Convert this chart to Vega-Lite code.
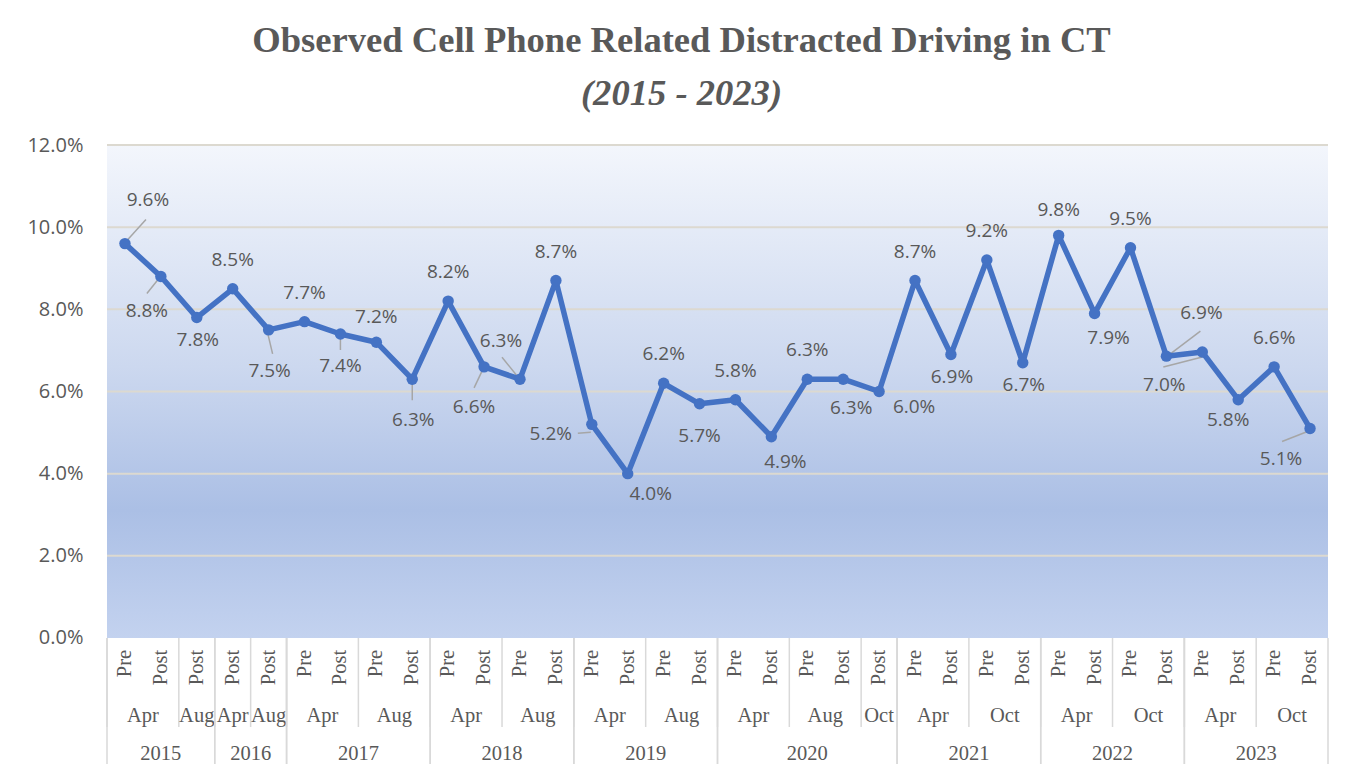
{
  "$schema": "https://vega.github.io/schema/vega-lite/v6.json",
  "width": 1221,
  "height": 619,
  "autosize": {"type": "none"},
  "padding": {"left": 107, "top": 145, "right": 29, "bottom": 8},
  "background": "white",
  "title": {
    "text": "Observed Cell Phone Related Distracted Driving in CT",
    "subtitle": "(2015 - 2023)",
    "font": "Liberation Serif",
    "fontSize": 36.6,
    "fontWeight": "bold",
    "color": "#595959",
    "subtitleFont": "Liberation Serif",
    "subtitleFontSize": 36.6,
    "subtitleFontStyle": "italic",
    "subtitleFontWeight": "bold",
    "subtitleColor": "#595959",
    "subtitlePadding": 17,
    "anchor": "middle",
    "frame": "group",
    "dx": -36,
    "offset": 22
  },
  "config": {
    "view": {"stroke": null}
  },
  "datasets": {
    "obs": [
      {"key": "2015 Apr Pre", "year": "2015", "month": "Apr", "phase": "Pre", "rate": 0.096},
      {"key": "2015 Apr Post", "year": "2015", "month": "Apr", "phase": "Post", "rate": 0.088},
      {"key": "2015 Aug Post", "year": "2015", "month": "Aug", "phase": "Post", "rate": 0.078},
      {"key": "2016 Apr Post", "year": "2016", "month": "Apr", "phase": "Post", "rate": 0.085},
      {"key": "2016 Aug Post", "year": "2016", "month": "Aug", "phase": "Post", "rate": 0.075},
      {"key": "2017 Apr Pre", "year": "2017", "month": "Apr", "phase": "Pre", "rate": 0.077},
      {"key": "2017 Apr Post", "year": "2017", "month": "Apr", "phase": "Post", "rate": 0.074},
      {"key": "2017 Aug Pre", "year": "2017", "month": "Aug", "phase": "Pre", "rate": 0.072},
      {"key": "2017 Aug Post", "year": "2017", "month": "Aug", "phase": "Post", "rate": 0.063},
      {"key": "2018 Apr Pre", "year": "2018", "month": "Apr", "phase": "Pre", "rate": 0.082},
      {"key": "2018 Apr Post", "year": "2018", "month": "Apr", "phase": "Post", "rate": 0.066},
      {"key": "2018 Aug Pre", "year": "2018", "month": "Aug", "phase": "Pre", "rate": 0.063},
      {"key": "2018 Aug Post", "year": "2018", "month": "Aug", "phase": "Post", "rate": 0.087},
      {"key": "2019 Apr Pre", "year": "2019", "month": "Apr", "phase": "Pre", "rate": 0.052},
      {"key": "2019 Apr Post", "year": "2019", "month": "Apr", "phase": "Post", "rate": 0.040},
      {"key": "2019 Aug Pre", "year": "2019", "month": "Aug", "phase": "Pre", "rate": 0.062},
      {"key": "2019 Aug Post", "year": "2019", "month": "Aug", "phase": "Post", "rate": 0.057},
      {"key": "2020 Apr Pre", "year": "2020", "month": "Apr", "phase": "Pre", "rate": 0.058},
      {"key": "2020 Apr Post", "year": "2020", "month": "Apr", "phase": "Post", "rate": 0.049},
      {"key": "2020 Aug Pre", "year": "2020", "month": "Aug", "phase": "Pre", "rate": 0.063},
      {"key": "2020 Aug Post", "year": "2020", "month": "Aug", "phase": "Post", "rate": 0.063},
      {"key": "2020 Oct Post", "year": "2020", "month": "Oct", "phase": "Post", "rate": 0.060},
      {"key": "2021 Apr Pre", "year": "2021", "month": "Apr", "phase": "Pre", "rate": 0.087},
      {"key": "2021 Apr Post", "year": "2021", "month": "Apr", "phase": "Post", "rate": 0.069},
      {"key": "2021 Oct Pre", "year": "2021", "month": "Oct", "phase": "Pre", "rate": 0.092},
      {"key": "2021 Oct Post", "year": "2021", "month": "Oct", "phase": "Post", "rate": 0.067},
      {"key": "2022 Apr Pre", "year": "2022", "month": "Apr", "phase": "Pre", "rate": 0.098},
      {"key": "2022 Apr Post", "year": "2022", "month": "Apr", "phase": "Post", "rate": 0.079},
      {"key": "2022 Oct Pre", "year": "2022", "month": "Oct", "phase": "Pre", "rate": 0.095},
      {"key": "2022 Oct Post", "year": "2022", "month": "Oct", "phase": "Post", "rate": 0.0686},
      {"key": "2023 Apr Pre", "year": "2023", "month": "Apr", "phase": "Pre", "rate": 0.0696},
      {"key": "2023 Apr Post", "year": "2023", "month": "Apr", "phase": "Post", "rate": 0.058},
      {"key": "2023 Oct Pre", "year": "2023", "month": "Oct", "phase": "Pre", "rate": 0.066},
      {"key": "2023 Oct Post", "year": "2023", "month": "Oct", "phase": "Post", "rate": 0.051}
    ],
    "months": [
      {"year": "2015", "month": "Apr", "first": "2015 Apr Pre", "n": 2},
      {"year": "2015", "month": "Aug", "first": "2015 Aug Post", "n": 1},
      {"year": "2016", "month": "Apr", "first": "2016 Apr Post", "n": 1},
      {"year": "2016", "month": "Aug", "first": "2016 Aug Post", "n": 1},
      {"year": "2017", "month": "Apr", "first": "2017 Apr Pre", "n": 2},
      {"year": "2017", "month": "Aug", "first": "2017 Aug Pre", "n": 2},
      {"year": "2018", "month": "Apr", "first": "2018 Apr Pre", "n": 2},
      {"year": "2018", "month": "Aug", "first": "2018 Aug Pre", "n": 2},
      {"year": "2019", "month": "Apr", "first": "2019 Apr Pre", "n": 2},
      {"year": "2019", "month": "Aug", "first": "2019 Aug Pre", "n": 2},
      {"year": "2020", "month": "Apr", "first": "2020 Apr Pre", "n": 2},
      {"year": "2020", "month": "Aug", "first": "2020 Aug Pre", "n": 2},
      {"year": "2020", "month": "Oct", "first": "2020 Oct Post", "n": 1},
      {"year": "2021", "month": "Apr", "first": "2021 Apr Pre", "n": 2},
      {"year": "2021", "month": "Oct", "first": "2021 Oct Pre", "n": 2},
      {"year": "2022", "month": "Apr", "first": "2022 Apr Pre", "n": 2},
      {"year": "2022", "month": "Oct", "first": "2022 Oct Pre", "n": 2},
      {"year": "2023", "month": "Apr", "first": "2023 Apr Pre", "n": 2},
      {"year": "2023", "month": "Oct", "first": "2023 Oct Pre", "n": 2}
    ],
    "years": [
      {"year": "2015", "first": "2015 Apr Pre", "mid": "2015 Apr Post", "last": "2015 Aug Post", "n": 3},
      {"year": "2016", "first": "2016 Apr Post", "mid": "2016 Apr Post", "last": "2016 Aug Post", "n": 2},
      {"year": "2017", "first": "2017 Apr Pre", "mid": "2017 Apr Post", "last": "2017 Aug Post", "n": 4},
      {"year": "2018", "first": "2018 Apr Pre", "mid": "2018 Apr Post", "last": "2018 Aug Post", "n": 4},
      {"year": "2019", "first": "2019 Apr Pre", "mid": "2019 Apr Post", "last": "2019 Aug Post", "n": 4},
      {"year": "2020", "first": "2020 Apr Pre", "mid": "2020 Aug Pre", "last": "2020 Oct Post", "n": 5},
      {"year": "2021", "first": "2021 Apr Pre", "mid": "2021 Apr Post", "last": "2021 Oct Post", "n": 4},
      {"year": "2022", "first": "2022 Apr Pre", "mid": "2022 Apr Post", "last": "2022 Oct Post", "n": 4},
      {"year": "2023", "first": "2023 Apr Pre", "mid": "2023 Apr Post", "last": "2023 Oct Post", "n": 4}
    ],
    "grid": [{"v": 0.02}, {"v": 0.04}, {"v": 0.06}, {"v": 0.08}, {"v": 0.10}, {"v": 0.12}]
  },
  "layer": [
    {
      "data": {"values": [{"area": "plot"}]},
      "mark": {
        "type": "rect",
        "color": {
          "gradient": "linear",
          "x1": 0, "y1": 0, "x2": 0, "y2": 1,
          "stops": [
            {"offset": 0, "color": "#f3f6fc"},
            {"offset": 0.45, "color": "#ccd8ef"},
            {"offset": 0.74, "color": "#abbfe5"},
            {"offset": 1, "color": "#c3d2ef"}
          ]
        }
      },
      "encoding": {
        "y": {
          "datum": 0.12, "type": "quantitative", "title": null,
          "scale": {"domain": [-0.03067, 0.12], "nice": false, "zero": false},
          "axis": {
            "values": [0, 0.02, 0.04, 0.06, 0.08, 0.1, 0.12],
            "format": ".1%",
            "title": null,
            "grid": false, "domain": false, "ticks": false,
            "labelPadding": 24,
            "labelFont": "Open Sans", "labelFontSize": 20, "labelColor": "#595959"
          }
        },
        "y2": {"datum": 0}
      }
    },
    {
      "data": {"name": "grid"},
      "mark": {"type": "rule", "color": "#dcd9d0", "strokeWidth": 2},
      "encoding": {
        "y": {"field": "v", "type": "quantitative", "title": null}
      }
    },
    {
      "data": {"name": "obs"},
      "encoding": {
        "x": {
          "field": "key", "type": "nominal", "sort": null, "axis": null,
          "scale": {
            "type": "band", "paddingInner": 0, "paddingOuter": 0,
            "domain": ["2015 Apr Pre","2015 Apr Post","2015 Aug Post","2016 Apr Post","2016 Aug Post","2017 Apr Pre","2017 Apr Post","2017 Aug Pre","2017 Aug Post","2018 Apr Pre","2018 Apr Post","2018 Aug Pre","2018 Aug Post","2019 Apr Pre","2019 Apr Post","2019 Aug Pre","2019 Aug Post","2020 Apr Pre","2020 Apr Post","2020 Aug Pre","2020 Aug Post","2020 Oct Post","2021 Apr Pre","2021 Apr Post","2021 Oct Pre","2021 Oct Post","2022 Apr Pre","2022 Apr Post","2022 Oct Pre","2022 Oct Post","2023 Apr Pre","2023 Apr Post","2023 Oct Pre","2023 Oct Post"]
          }
        },
        "y": {"field": "rate", "type": "quantitative", "title": null}
      },
      "layer": [
        {
          "transform": [{"filter": {"field": "key", "equal": "2015 Apr Pre"}}],
          "mark": {"type": "rule", "color": "#a6a6a6", "strokeWidth": 1.5, "xOffset": 21, "yOffset": -24, "x2Offset": 2, "y2Offset": -3},
          "encoding": {"x": {"field": "key", "type": "nominal", "bandPosition": 0.5, "axis": null}, "x2": {"field": "key", "bandPosition": 0.5}, "y2": {"field": "rate"}}
        },
        {
          "transform": [{"filter": {"field": "key", "equal": "2015 Apr Post"}}],
          "mark": {"type": "rule", "color": "#a6a6a6", "strokeWidth": 1.5, "xOffset": -14, "yOffset": 17, "x2Offset": -2, "y2Offset": 2},
          "encoding": {"x": {"field": "key", "type": "nominal", "bandPosition": 0.5, "axis": null}, "x2": {"field": "key", "bandPosition": 0.5}, "y2": {"field": "rate"}}
        },
        {
          "transform": [{"filter": {"field": "key", "equal": "2016 Aug Post"}}],
          "mark": {"type": "rule", "color": "#a6a6a6", "strokeWidth": 1.5, "xOffset": 4, "yOffset": 24, "x2Offset": -1, "y2Offset": 3},
          "encoding": {"x": {"field": "key", "type": "nominal", "bandPosition": 0.5, "axis": null}, "x2": {"field": "key", "bandPosition": 0.5}, "y2": {"field": "rate"}}
        },
        {
          "transform": [{"filter": {"field": "key", "equal": "2017 Apr Post"}}],
          "mark": {"type": "rule", "color": "#a6a6a6", "strokeWidth": 1.5, "xOffset": 0, "yOffset": 16, "x2Offset": 0, "y2Offset": 3},
          "encoding": {"x": {"field": "key", "type": "nominal", "bandPosition": 0.5, "axis": null}, "x2": {"field": "key", "bandPosition": 0.5}, "y2": {"field": "rate"}}
        },
        {
          "transform": [{"filter": {"field": "key", "equal": "2017 Aug Post"}}],
          "mark": {"type": "rule", "color": "#a6a6a6", "strokeWidth": 1.5, "xOffset": 0, "yOffset": 21, "x2Offset": 0, "y2Offset": 3},
          "encoding": {"x": {"field": "key", "type": "nominal", "bandPosition": 0.5, "axis": null}, "x2": {"field": "key", "bandPosition": 0.5}, "y2": {"field": "rate"}}
        },
        {
          "transform": [{"filter": {"field": "key", "equal": "2018 Apr Post"}}],
          "mark": {"type": "rule", "color": "#a6a6a6", "strokeWidth": 1.5, "xOffset": -10, "yOffset": 21, "x2Offset": -1, "y2Offset": 2},
          "encoding": {"x": {"field": "key", "type": "nominal", "bandPosition": 0.5, "axis": null}, "x2": {"field": "key", "bandPosition": 0.5}, "y2": {"field": "rate"}}
        },
        {
          "transform": [{"filter": {"field": "key", "equal": "2018 Aug Pre"}}],
          "mark": {"type": "rule", "color": "#a6a6a6", "strokeWidth": 1.5, "xOffset": -18, "yOffset": -22, "x2Offset": -1, "y2Offset": -1},
          "encoding": {"x": {"field": "key", "type": "nominal", "bandPosition": 0.5, "axis": null}, "x2": {"field": "key", "bandPosition": 0.5}, "y2": {"field": "rate"}}
        },
        {
          "transform": [{"filter": {"field": "key", "equal": "2019 Apr Pre"}}],
          "mark": {"type": "rule", "color": "#a6a6a6", "strokeWidth": 1.5, "xOffset": -14, "yOffset": 9, "x2Offset": -1, "y2Offset": 8},
          "encoding": {"x": {"field": "key", "type": "nominal", "bandPosition": 0.5, "axis": null}, "x2": {"field": "key", "bandPosition": 0.5}, "y2": {"field": "rate"}}
        },
        {
          "transform": [{"filter": {"field": "key", "equal": "2022 Oct Post"}}],
          "mark": {"type": "rule", "color": "#a6a6a6", "strokeWidth": 1.5, "xOffset": 34, "yOffset": -25, "x2Offset": 1, "y2Offset": 0},
          "encoding": {"x": {"field": "key", "type": "nominal", "bandPosition": 0.5, "axis": null}, "x2": {"field": "key", "bandPosition": 0.5}, "y2": {"field": "rate"}}
        },
        {
          "transform": [{"filter": {"field": "key", "equal": "2023 Apr Pre"}}],
          "mark": {"type": "rule", "color": "#a6a6a6", "strokeWidth": 1.5, "xOffset": -39, "yOffset": 15, "x2Offset": 0, "y2Offset": 5},
          "encoding": {"x": {"field": "key", "type": "nominal", "bandPosition": 0.5, "axis": null}, "x2": {"field": "key", "bandPosition": 0.5}, "y2": {"field": "rate"}}
        },
        {
          "transform": [{"filter": {"field": "key", "equal": "2023 Oct Post"}}],
          "mark": {"type": "rule", "color": "#a6a6a6", "strokeWidth": 1.5, "xOffset": -28, "yOffset": 13, "x2Offset": 0, "y2Offset": 2},
          "encoding": {"x": {"field": "key", "type": "nominal", "bandPosition": 0.5, "axis": null}, "x2": {"field": "key", "bandPosition": 0.5}, "y2": {"field": "rate"}}
        },
        {"mark": {"type": "line", "color": "#4472C4", "strokeWidth": 5.5, "strokeJoin": "round"}},
        {"mark": {"type": "circle", "color": "#4472C4", "opacity": 1, "size": 130}},
        {
          "transform": [{"filter": {"field": "key", "oneOf": ["2016 Apr Post","2017 Apr Pre","2018 Apr Pre","2018 Aug Post","2019 Aug Pre","2020 Apr Pre","2020 Aug Pre","2021 Apr Pre","2021 Oct Pre","2022 Oct Pre","2023 Oct Pre"]}}],
          "mark": {"type": "text", "font": "Open Sans", "fontSize": 19, "color": "#595959", "dy": -29},
          "encoding": {"text": {"field": "rate", "format": ".1%"}}
        },
        {
          "transform": [{"filter": {"field": "key", "oneOf": ["2017 Aug Pre","2022 Apr Pre"]}}],
          "mark": {"type": "text", "font": "Open Sans", "fontSize": 19, "color": "#595959", "dy": -25},
          "encoding": {"text": {"field": "rate", "format": ".1%"}}
        },
        {
          "transform": [{"filter": {"field": "key", "oneOf": ["2015 Aug Post","2021 Apr Post","2021 Oct Post"]}}],
          "mark": {"type": "text", "font": "Open Sans", "fontSize": 19, "color": "#595959", "dx": 1, "dy": 22},
          "encoding": {"text": {"field": "rate", "format": ".1%"}}
        },
        {
          "transform": [{"filter": {"field": "key", "oneOf": ["2016 Aug Post","2017 Aug Post"]}}],
          "mark": {"type": "text", "font": "Open Sans", "fontSize": 19, "color": "#595959", "dx": 1, "dy": 41},
          "encoding": {"text": {"field": "rate", "format": ".1%"}}
        },
        {
          "transform": [{"filter": {"field": "key", "oneOf": ["2017 Apr Post","2019 Aug Post"]}}],
          "mark": {"type": "text", "font": "Open Sans", "fontSize": 19, "color": "#595959", "dy": 32},
          "encoding": {"text": {"field": "rate", "format": ".1%"}}
        },
        {
          "transform": [{"filter": {"field": "key", "oneOf": ["2020 Apr Post","2022 Apr Post"]}}],
          "mark": {"type": "text", "font": "Open Sans", "fontSize": 19, "color": "#595959", "dx": 14, "dy": 25},
          "encoding": {"text": {"field": "rate", "format": ".1%"}}
        },
        {
          "transform": [{"filter": {"field": "key", "equal": "2015 Apr Pre"}}],
          "mark": {"type": "text", "font": "Open Sans", "fontSize": 19, "color": "#595959", "dx": 23, "dy": -44},
          "encoding": {"text": {"field": "rate", "format": ".1%"}}
        },
        {
          "transform": [{"filter": {"field": "key", "equal": "2015 Apr Post"}}],
          "mark": {"type": "text", "font": "Open Sans", "fontSize": 19, "color": "#595959", "dx": -14, "dy": 35},
          "encoding": {"text": {"field": "rate", "format": ".1%"}}
        },
        {
          "transform": [{"filter": {"field": "key", "equal": "2018 Apr Post"}}],
          "mark": {"type": "text", "font": "Open Sans", "fontSize": 19, "color": "#595959", "dx": -10, "dy": 40},
          "encoding": {"text": {"field": "rate", "format": ".1%"}}
        },
        {
          "transform": [{"filter": {"field": "key", "equal": "2018 Aug Pre"}}],
          "mark": {"type": "text", "font": "Open Sans", "fontSize": 19, "color": "#595959", "dx": -19, "dy": -38},
          "encoding": {"text": {"field": "rate", "format": ".1%"}}
        },
        {
          "transform": [{"filter": {"field": "key", "equal": "2019 Apr Pre"}}],
          "mark": {"type": "text", "font": "Open Sans", "fontSize": 19, "color": "#595959", "dx": -41, "dy": 10},
          "encoding": {"text": {"field": "rate", "format": ".1%"}}
        },
        {
          "transform": [{"filter": {"field": "key", "equal": "2019 Apr Post"}}],
          "mark": {"type": "text", "font": "Open Sans", "fontSize": 19, "color": "#595959", "dx": 23, "dy": 20},
          "encoding": {"text": {"field": "rate", "format": ".1%"}}
        },
        {
          "transform": [{"filter": {"field": "key", "equal": "2020 Aug Post"}}],
          "mark": {"type": "text", "font": "Open Sans", "fontSize": 19, "color": "#595959", "dx": 8, "dy": 29},
          "encoding": {"text": {"field": "rate", "format": ".1%"}}
        },
        {
          "transform": [{"filter": {"field": "key", "equal": "2020 Oct Post"}}],
          "mark": {"type": "text", "font": "Open Sans", "fontSize": 19, "color": "#595959", "dx": 35, "dy": 16},
          "encoding": {"text": {"field": "rate", "format": ".1%"}}
        },
        {
          "transform": [{"filter": {"field": "key", "equal": "2022 Oct Post"}}],
          "mark": {"type": "text", "font": "Open Sans", "fontSize": 19, "color": "#595959", "dx": 35, "dy": -43},
          "encoding": {"text": {"field": "rate", "format": ".1%"}}
        },
        {
          "transform": [{"filter": {"field": "key", "equal": "2023 Apr Pre"}}],
          "mark": {"type": "text", "font": "Open Sans", "fontSize": 19, "color": "#595959", "dx": -38, "dy": 33},
          "encoding": {"text": {"field": "rate", "format": ".1%"}}
        },
        {
          "transform": [{"filter": {"field": "key", "equal": "2023 Apr Post"}}],
          "mark": {"type": "text", "font": "Open Sans", "fontSize": 19, "color": "#595959", "dx": -10, "dy": 20},
          "encoding": {"text": {"field": "rate", "format": ".1%"}}
        },
        {
          "transform": [{"filter": {"field": "key", "equal": "2023 Oct Post"}}],
          "mark": {"type": "text", "font": "Open Sans", "fontSize": 19, "color": "#595959", "dx": -29, "dy": 31},
          "encoding": {"text": {"field": "rate", "format": ".1%"}}
        },
        {
          "mark": {"type": "text", "font": "Liberation Serif", "fontSize": 20.5, "color": "#595959", "angle": 270, "align": "right", "baseline": "middle"},
          "encoding": {
            "y": {"datum": -0.0029, "type": "quantitative", "title": null},
            "text": {"field": "phase"}
          }
        }
      ]
    },
    {
      "data": {"name": "months"},
      "layer": [
        {
          "mark": {"type": "rule", "color": "#d9d9d9", "strokeWidth": 1.5},
          "encoding": {
            "x": {"field": "first", "type": "nominal", "bandPosition": 0, "axis": null},
            "y": {"datum": 0, "type": "quantitative", "title": null},
            "y2": {"datum": -0.02167}
          }
        },
        {
          "transform": [{"filter": "datum.n == 2"}],
          "mark": {"type": "text", "font": "Liberation Serif", "fontSize": 20.5, "color": "#595959", "baseline": "alphabetic"},
          "encoding": {
            "x": {"field": "first", "type": "nominal", "bandPosition": 1, "axis": null},
            "y": {"datum": -0.02045, "type": "quantitative", "title": null},
            "text": {"field": "month"}
          }
        },
        {
          "transform": [{"filter": "datum.n == 1"}],
          "mark": {"type": "text", "font": "Liberation Serif", "fontSize": 20.5, "color": "#595959", "baseline": "alphabetic"},
          "encoding": {
            "x": {"field": "first", "type": "nominal", "bandPosition": 0.5, "axis": null},
            "y": {"datum": -0.02045, "type": "quantitative", "title": null},
            "text": {"field": "month"}
          }
        }
      ]
    },
    {
      "data": {"name": "years"},
      "layer": [
        {
          "mark": {"type": "rule", "color": "#d9d9d9", "strokeWidth": 1.5},
          "encoding": {
            "x": {"field": "first", "type": "nominal", "bandPosition": 0, "axis": null},
            "y": {"datum": 0, "type": "quantitative", "title": null},
            "y2": {"datum": -0.03067}
          }
        },
        {
          "mark": {"type": "rule", "color": "#d9d9d9", "strokeWidth": 1.5},
          "encoding": {
            "x": {"field": "last", "type": "nominal", "bandPosition": 1, "axis": null},
            "y": {"datum": 0, "type": "quantitative", "title": null},
            "y2": {"datum": -0.03067}
          }
        },
        {
          "transform": [{"filter": "datum.n % 2 == 0"}],
          "mark": {"type": "text", "font": "Liberation Serif", "fontSize": 20.5, "color": "#595959", "baseline": "alphabetic"},
          "encoding": {
            "x": {"field": "mid", "type": "nominal", "bandPosition": 1, "axis": null},
            "y": {"datum": -0.0297, "type": "quantitative", "title": null},
            "text": {"field": "year"}
          }
        },
        {
          "transform": [{"filter": "datum.n % 2 == 1"}],
          "mark": {"type": "text", "font": "Liberation Serif", "fontSize": 20.5, "color": "#595959", "baseline": "alphabetic"},
          "encoding": {
            "x": {"field": "mid", "type": "nominal", "bandPosition": 0.5, "axis": null},
            "y": {"datum": -0.0297, "type": "quantitative", "title": null},
            "text": {"field": "year"}
          }
        }
      ]
    }
  ]
}
